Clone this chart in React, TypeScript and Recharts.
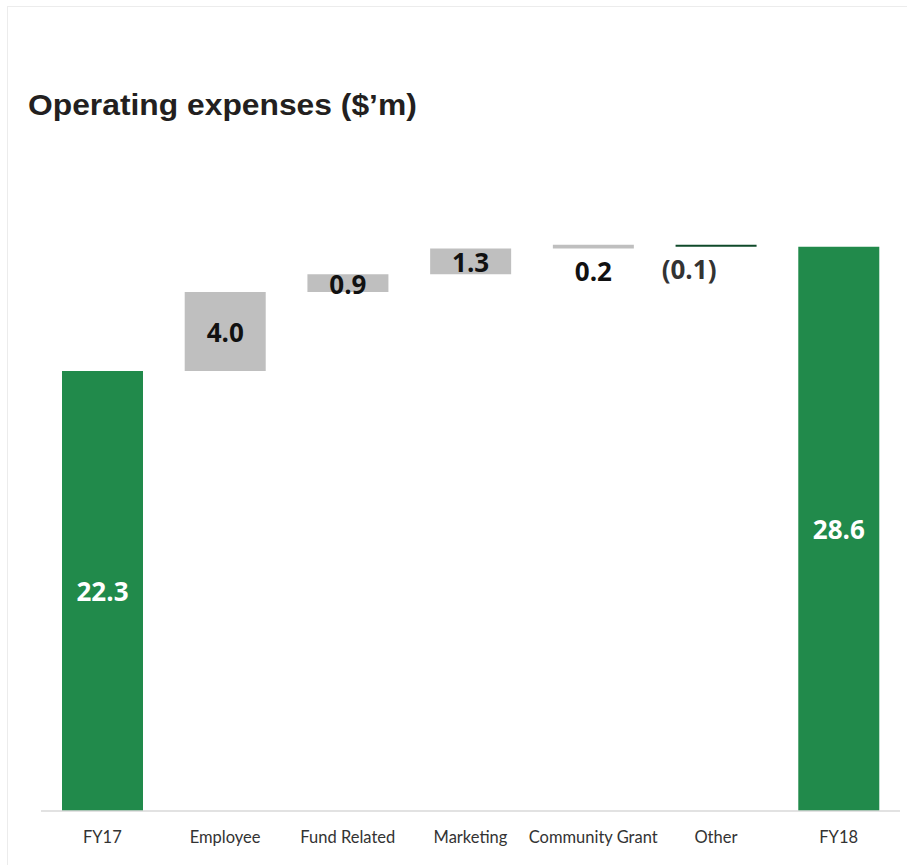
import React from 'react';
import { BarChart, Bar, XAxis, YAxis, Cell, LabelList } from 'recharts';

// waterfall steps
const categories = ['FY17', 'Employee', 'Fund Related', 'Marketing', 'Community Grant', 'Other', 'FY18'];
const changes = [22.3, 4.0, 0.9, 1.3, 0.2, -0.1, 28.6];
const valueLabels = ['22.3', '4.0', '0.9', '1.3', '0.2', '(0.1)', '28.6'];
const isTotal = [true, false, false, false, false, false, true];

const GREEN = '#218A4B';
const GREY = '#BFBFBF';
const DARK_GREEN = '#0F4A2A';

// build base + visible segment for each step
const chartData = (() => {
  let running = 0;
  return categories.map((name, i) => {
    const v = changes[i];
    let base: number;
    let size: number;
    if (isTotal[i]) {
      base = 0;
      size = v;
      running = v;
    } else if (v >= 0) {
      base = running;
      size = v;
      running += v;
    } else {
      running += v;
      base = running;
      size = -v;
    }
    return { name, base, size, label: valueLabels[i], index: i };
  });
})();

const barColor = (i: number) => {
  if (isTotal[i]) return GREEN;
  if (changes[i] < 0) return DARK_GREEN;
  return GREY;
};

const ValueLabel = (props: any) => {
  const { x, y, width, height, index } = props;
  const d = chartData[index];
  const cx = x + width / 2;
  const font = { fontFamily: '"Open Sans", sans-serif', fontWeight: 700, fontSize: 26 };
  if (isTotal[index]) {
    return (
      <text x={cx} y={y + height / 2} fill="#ffffff" textAnchor="middle" dominantBaseline="central" {...font}>
        {d.label}
      </text>
    );
  }
  if (height < 10) {
    // thin steps: label sits under the bar
    const dx = changes[index] < 0 ? -27 : 0;
    return (
      <text
        x={cx + dx}
        y={y + height + 22}
        fill={changes[index] < 0 ? '#333333' : '#111111'}
        textAnchor="middle"
        dominantBaseline="central"
        {...font}
      >
        {d.label}
      </text>
    );
  }
  return (
    <text x={cx} y={y + height / 2 + 1} fill="#111111" textAnchor="middle" dominantBaseline="central" {...font}>
      {d.label}
    </text>
  );
};

const CategoryTick = (props: any) => {
  const { x, y, payload } = props;
  return (
    <text
      x={x}
      y={y + 18}
      textAnchor="middle"
      dominantBaseline="central"
      fill="#333333"
      style={{ fontFamily: 'Lato, sans-serif', fontSize: 16.5 }}
    >
      {payload.value}
    </text>
  );
};

export default function App() {
  return (
    <div style={{ position: 'absolute', left: 0, top: 0, width: 907, height: 865, background: '#ffffff', overflow: 'hidden' }}>
      <div
        style={{
          position: 'absolute',
          left: 7,
          top: 6,
          width: 910,
          height: 870,
          borderTop: '1px solid #ececec',
          borderLeft: '1px solid #ececec',
        }}
      />
      <div
        style={{
          position: 'absolute',
          left: 28,
          top: 88,
          fontFamily: '"Liberation Sans", Arial, sans-serif',
          fontWeight: 700,
          fontSize: 29.5,
          color: '#231F20',
          whiteSpace: 'nowrap',
          transform: 'scaleX(1.078)',
          transformOrigin: 'left top',
        }}
      >
        Operating expenses ($’m)
      </div>
      <div style={{ position: 'absolute', left: 0, top: 0 }}>
        <BarChart
          width={907}
          height={865}
          data={chartData}
          margin={{ top: 219, right: 7, left: 41, bottom: 24 }}
          barSize={81}
        >
          <XAxis
            dataKey="name"
            height={30}
            axisLine={{ stroke: '#D9D9D9', strokeWidth: 1.5 }}
            tickLine={false}
            interval={0}
            tick={<CategoryTick />}
          />
          <YAxis hide domain={[0, 30]} />
          <Bar dataKey="base" stackId="w" fill="transparent" isAnimationActive={false} />
          <Bar dataKey="size" stackId="w" isAnimationActive={false}>
            {chartData.map((d, i) => (
              <Cell key={d.name} fill={barColor(i)} />
            ))}
            <LabelList dataKey="size" content={<ValueLabel />} />
          </Bar>
        </BarChart>
      </div>
    </div>
  );
}
